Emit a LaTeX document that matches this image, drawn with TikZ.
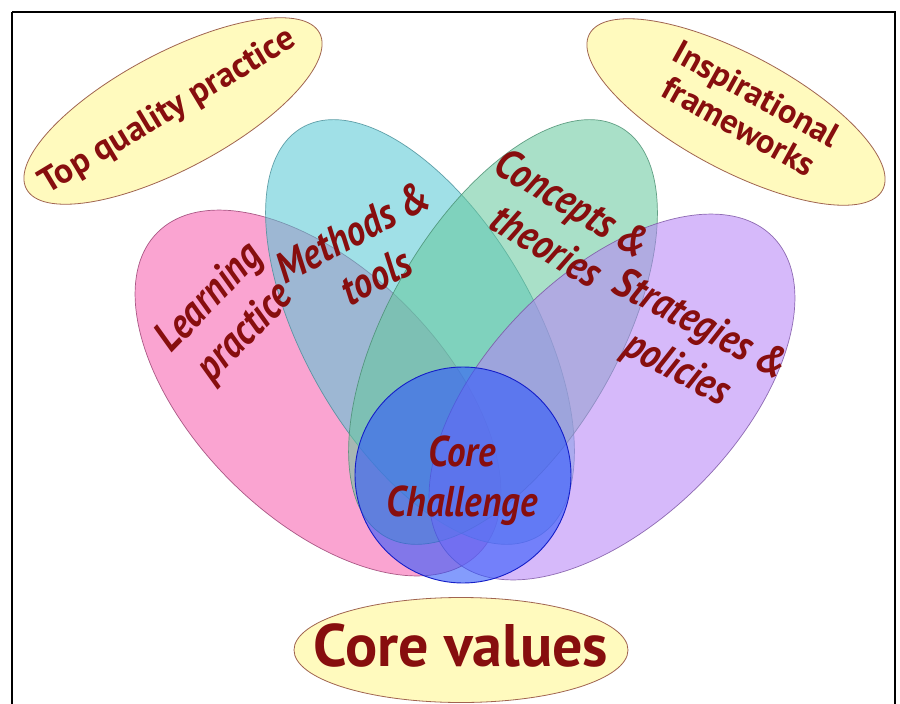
\documentclass[tikz,border=0pt]{standalone}
\usepackage{fontspec}
\setmainfont{PT Sans}
\newfontfamily\upfont{PT Sans}
\newfontfamily\itfont[FakeStretch=0.86]{PT Sans}
\usetikzlibrary{shapes.geometric}
\definecolor{txt}{RGB}{135,14,14}
\definecolor{yell}{RGB}{255,250,190}
\definecolor{yedge}{RGB}{160,100,80}
\definecolor{cpink}{RGB}{246,91,173}
\definecolor{cpinkE}{RGB}{150,60,110}
\definecolor{ccyan}{RGB}{82,200,213}
\definecolor{ccyanE}{RGB}{70,140,150}
\definecolor{cgreen}{RGB}{100,200,155}
\definecolor{cgreenE}{RGB}{70,140,110}
\definecolor{cpurp}{RGB}{182,128,246}
\definecolor{cpurpE}{RGB}{120,80,160}
\definecolor{cblue}{RGB}{50,90,250}
\definecolor{cblueE}{RGB}{20,30,200}
\tikzset{
  petal/.style={ellipse, inner sep=0pt, line width=0.7pt, fill opacity=0.55, draw opacity=0.8},
  outer/.style={ellipse, inner sep=0pt, draw=yedge, fill=yell, line width=0.8pt},
  itlab/.style={text=txt, align=center, font=\itfont\bfseries\itshape\fontsize{43}{50}\selectfont},
  uplab/.style={text=txt, align=center},
}
\begin{document}
\begin{tikzpicture}[x=1pt,y=-1pt]
\useasboundingbox (0,0) rectangle (900,704);
\fill[white] (0,0) rectangle (900,704);
\draw[line width=1.8pt] (12,12) -- (12,720) (12,12) -- (895,12) -- (895,720);

% outer value ellipses
\node[outer, minimum width=332pt, minimum height=116pt, rotate=28] (top) at (173,111) {};
\node[outer, minimum width=332pt, minimum height=116pt, rotate=-28] (insp) at (736,112) {};
\node[outer, minimum width=334pt, minimum height=105pt] (vals) at (461,650) {};

% petals
\node[petal, fill=cpink, draw=cpinkE, minimum width=454pt, minimum height=248pt, rotate=-45] (learn) at (318,393) {};
\node[petal, fill=ccyan, draw=ccyanE, minimum width=472pt, minimum height=230pt, rotate=-60] (meth) at (420,332) {};
\node[petal, fill=cgreen, draw=cgreenE, minimum width=472pt, minimum height=230pt, rotate=60] (conc) at (503,332) {};
\node[petal, fill=cpurp, draw=cpurpE, minimum width=454pt, minimum height=248pt, rotate=45] (strat) at (612,397) {};
\node[circle, inner sep=0pt, minimum size=216pt, fill=cblue, fill opacity=0.6, draw=cblueE, line width=0.9pt] (core) at (463,475) {};

% labels
\node[uplab, font=\upfont\bfseries\fontsize{35}{40}\selectfont, rotate=31] (topL) at (168,112) {Top quality practice};
\node[uplab, font=\upfont\bfseries\fontsize{34}{37}\selectfont, rotate=-29] (inspL) at (748,110) {Inspirational\\frameworks};
\node[uplab, font=\upfont\bfseries\fontsize{60}{66}\selectfont] (valsL) at (461,645) {Core values};
\node[itlab, rotate=46] (learnL) at (228,316) {Learning\\practice};
\node[itlab, rotate=28] (methL) at (364,254) {Methods \&\\tools};
\node[itlab, rotate=-31] (concL) at (560,224) {Concepts \&\\theories};
\node[itlab, rotate=-28] (stratL) at (688,348) {Strategies \&\\policies};
\node[itlab] (coreL) at (462,481) {Core\\Challenge};
\end{tikzpicture}
\end{document}
